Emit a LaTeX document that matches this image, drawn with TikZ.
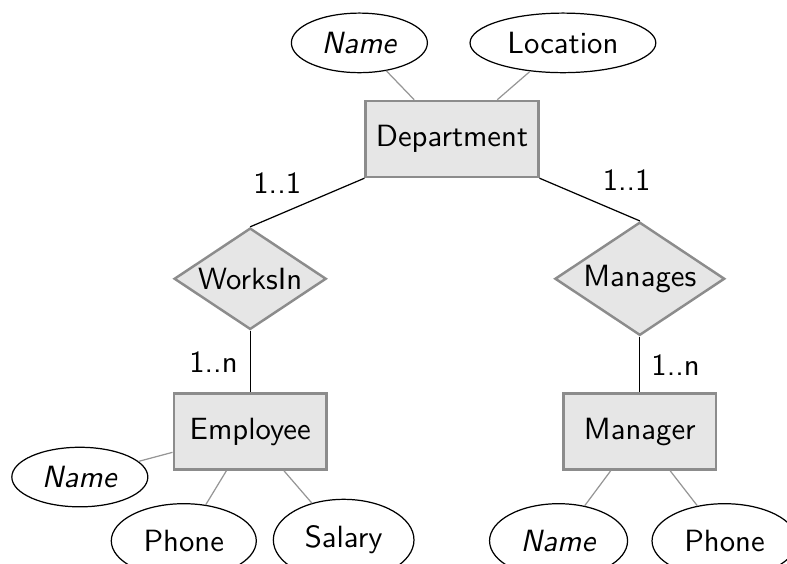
\documentclass[tikz,border=0pt]{standalone}
\usepackage{tikz}
\usetikzlibrary{shapes.geometric, positioning}
\usepackage{xcolor}
\definecolor{cFill}{RGB}{230,230,230}
\definecolor{cEdge}{RGB}{140,140,140}
\definecolor{cAttr}{RGB}{150,150,150}
\tikzset{
  entity/.style={rectangle, draw=cEdge, fill=cFill, thick,
                 minimum width=1.75cm, minimum height=0.87cm,
                 font=\sffamily},
  relation/.style={diamond, draw=cEdge, fill=cFill, thick,
                   aspect=1.5, inner sep=1pt, font=\sffamily},
  attr/.style={ellipse, draw=black, fill=white, font=\sffamily},
  lowattr/.style={attr, minimum height=0.85cm},
  card/.style={font=\sffamily},
  attrline/.style={draw=cAttr},
  relline/.style={draw=black}
}
\begin{document}
\begin{tikzpicture}[on grid]
  \useasboundingbox (-5.174,-4.854) rectangle (3.835,1.591);

  \node[entity] (dept) at (0,0) {Department};
  \node[attr, above left=1.10cm and 1.06cm of dept] (dname) {\textit{Name}};
  \node[attr, above right=1.10cm and 1.27cm of dept] (dloc) {Location};

  \node[relation, below left=1.60cm and 2.31cm of dept] (worksin) {WorksIn};
  \node[relation, below right=1.60cm and 2.15cm of dept] (manages) {Manages};

  \node[entity, below=1.75cm of worksin] (emp) {Employee};
  \node[entity, below=1.75cm of manages] (mgr) {Manager};

  \node[attr, below left=0.52cm and 1.95cm of emp] (ename) {\textit{Name}};
  \node[lowattr, minimum width=1.66cm, below left=1.25cm and 0.76cm of emp] (ephone) {Phone};
  \node[lowattr, minimum width=1.61cm, minimum height=0.93cm,
        below right=1.24cm and 1.07cm of emp] (esal) {Salary};
  \node[lowattr, minimum width=1.58cm, below left=1.25cm and 0.93cm of mgr] (mname) {\textit{Name}};
  \node[lowattr, minimum width=1.66cm, below right=1.25cm and 0.97cm of mgr] (mphone) {Phone};

  \node[card, below left=0.50cm and 2.00cm of dept] (c_dw) {1..1};
  \node[card, below right=0.47cm and 2.00cm of dept] (c_dm) {1..1};
  \node[card, above left=0.80cm and 0.42cm of emp] (c_we) {1..n};
  \node[card, above right=0.76cm and 0.41cm of mgr] (c_mm) {1..n};

  \draw[attrline] (dname) -- (dept);
  \draw[attrline] (dloc) -- (dept);
  \draw[attrline] (ename) -- (emp);
  \draw[attrline] (ephone) -- (emp);
  \draw[attrline] (esal) -- (emp);
  \draw[attrline] (mname) -- (mgr);
  \draw[attrline] (mphone) -- (mgr);
  \draw[relline] (dept.south west) -- (worksin.north);
  \draw[relline] (dept.south east) -- (manages.north);
  \draw[relline] (worksin.south) -- (emp.north);
  \draw[relline] (manages.south) -- (mgr.north);
\end{tikzpicture}
\end{document}
